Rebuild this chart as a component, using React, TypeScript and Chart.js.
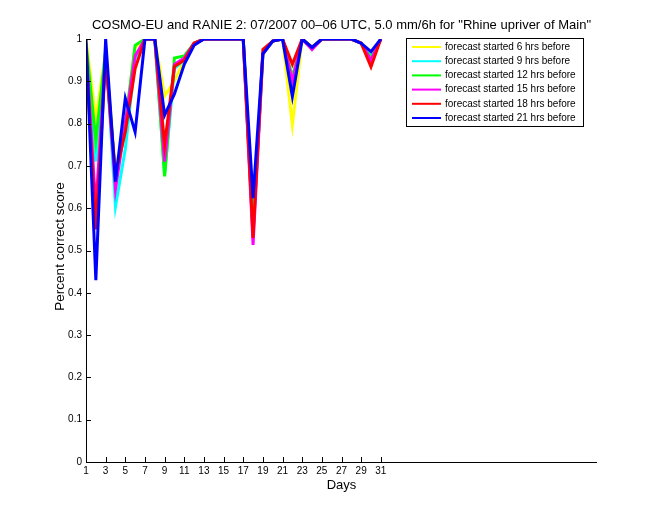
import React, { useEffect, useRef } from "react";
import { Chart, registerables } from "chart.js";

Chart.register(...registerables);

const titleText = 'COSMO-EU and RANIE 2: 07/2007 00\u201306 UTC, 5.0 mm/6h for "Rhine upriver of Main"';
const xTitle = "Days";
const yTitle = "Percent correct score";

const days = [1, 2, 3, 4, 5, 6, 7, 8, 9, 10, 11, 12, 13, 14, 15, 16, 17, 18, 19, 20, 21, 22, 23, 24, 25, 26, 27, 28, 29, 30, 31];
const xTicks = [1, 3, 5, 7, 9, 11, 13, 15, 17, 19, 21, 23, 25, 27, 29, 31];
const yTicks = [0, 0.1, 0.2, 0.3, 0.4, 0.5, 0.6, 0.7, 0.8, 0.9, 1];
const yTickLabels = ["0", "0.1", "0.2", "0.3", "0.4", "0.5", "0.6", "0.7", "0.8", "0.9", "1"];

const seriesLabels = [
  "forecast started 6 hrs before",
  "forecast started 9 hrs before",
  "forecast started 12 hrs before",
  "forecast started 15 hrs before",
  "forecast started 18 hrs before",
  "forecast started 21 hrs before",
];
const seriesColors = ["#ffff00", "#00ffff", "#00ff00", "#ff00ff", "#ff0000", "#0000ff"];

const s6 = [1.0, 0.81, 0.97, 0.69, 0.8, 0.98, 1, 1, 0.865, 0.9, 0.95, 0.99, 1, 1, 1, 1, 1, 0.55, 0.965, 0.995, 1, 0.797, 1, 0.98, 1, 1, 1, 1, 0.99, 0.96, 1];
const s9 = [0.98, 0.71, 0.98, 0.604, 0.74, 0.95, 1, 1, 0.68, 0.93, 0.95, 0.99, 1, 1, 1, 1, 1, 0.55, 0.965, 0.995, 1, 0.88, 1, 0.98, 1, 1, 1, 1, 0.99, 0.96, 1];
const s12 = [0.99, 0.76, 0.97, 0.67, 0.8, 0.985, 1, 1, 0.675, 0.955, 0.96, 0.99, 1, 1, 1, 1, 1, 0.54, 0.965, 0.995, 1, 0.91, 1, 0.98, 1, 1, 1, 1, 0.99, 0.955, 1];
const s15 = [0.98, 0.6, 0.97, 0.645, 0.8, 0.96, 1, 1, 0.71, 0.94, 0.955, 0.99, 1, 1, 1, 1, 1, 0.513, 0.965, 0.995, 1, 0.9, 1, 0.975, 1, 1, 1, 1, 0.99, 0.95, 1];
const s18 = [0.97, 0.55, 0.95, 0.68, 0.78, 0.93, 1, 1, 0.75, 0.935, 0.95, 0.99, 1, 1, 1, 1, 1, 0.53, 0.975, 0.995, 1, 0.94, 1, 0.98, 1, 1, 1, 1, 0.99, 0.934, 1];
const s21 = [1.0, 0.43, 1.0, 0.663, 0.86, 0.78, 1, 1, 0.82, 0.87, 0.94, 0.985, 1, 1, 1, 1, 1, 0.624, 0.965, 0.995, 1, 0.864, 1, 0.98, 1, 1, 1, 1, 0.99, 0.97, 1];
const seriesValues = [s6, s9, s12, s15, s18, s21];

const FONT = "'Liberation Sans', Arial, Helvetica, sans-serif";

const decorPlugin = {
  id: "decor",
  afterDraw(chart: any) {
    const ctx = chart.ctx as CanvasRenderingContext2D;
    const area = chart.chartArea;
    const xs = chart.scales.x;
    const ys = chart.scales.y;
    ctx.save();
    ctx.strokeStyle = "#000";
    ctx.lineWidth = 1;
    ctx.beginPath();
    ctx.moveTo(area.left + 0.5, area.top);
    ctx.lineTo(area.left + 0.5, area.bottom + 0.5);
    ctx.lineTo(area.right, area.bottom + 0.5);
    ctx.stroke();
    ctx.beginPath();
    xTicks.forEach((v) => {
      const px = Math.round(xs.getPixelForValue(v)) + 0.5;
      ctx.moveTo(px, area.bottom);
      ctx.lineTo(px, area.bottom - 5);
    });
    yTicks.forEach((v) => {
      const py = Math.round(ys.getPixelForValue(v)) + 0.5;
      ctx.moveTo(area.left, py);
      ctx.lineTo(area.left + 5, py);
    });
    ctx.stroke();
    ctx.fillStyle = "#000";
    ctx.font = `13px ${FONT}`;
    ctx.textAlign = "center";
    ctx.textBaseline = "middle";
    ctx.fillText(titleText, (area.left + area.right) / 2, 25);
    ctx.fillText(xTitle, (area.left + area.right) / 2, 485);
    ctx.save();
    ctx.font = `13.5px ${FONT}`;
    ctx.translate(60, (area.top + area.bottom) / 2 - 4);
    ctx.rotate(-Math.PI / 2);
    ctx.fillText(yTitle, 0, 0);
    ctx.restore();
    const bx = 406.5, by = 38.5, bw = 177, bh = 88;
    ctx.fillStyle = "#fff";
    ctx.fillRect(bx, by, bw, bh);
    ctx.strokeStyle = "#000";
    ctx.lineWidth = 1;
    ctx.strokeRect(bx, by, bw, bh);
    ctx.font = `10px ${FONT}`;
    ctx.textAlign = "left";
    chart.data.datasets.forEach((ds: any, i: number) => {
      const y = 47 + i * 14.2;
      ctx.strokeStyle = ds.borderColor;
      ctx.lineWidth = 2;
      ctx.beginPath();
      ctx.moveTo(412, y);
      ctx.lineTo(441, y);
      ctx.stroke();
      ctx.fillStyle = "#000";
      ctx.fillText(ds.label, 445, y);
    });
    ctx.restore();
  },
};

export default function App() {
  const ref = useRef<HTMLCanvasElement | null>(null);
  useEffect(() => {
    document.body.style.margin = "0";
    const canvas = ref.current;
    if (!canvas) return;
    const chart = new Chart(canvas, {
      type: "line",
      data: {
        datasets: seriesValues.map((vals, i) => ({
          label: seriesLabels[i],
          data: days.map((d, j) => ({ x: d, y: vals[j] })),
          borderColor: seriesColors[i],
          backgroundColor: seriesColors[i],
          borderWidth: 3,
          pointRadius: 0,
          tension: 0,
          fill: false,
          order: seriesValues.length - i,
        })),
      },
      options: {
        animation: false,
        responsive: false,
        maintainAspectRatio: false,
        layout: { padding: { left: 0, right: 63, top: 39, bottom: 0 } },
        plugins: {
          legend: { display: false },
          title: { display: false },
          tooltip: { enabled: false },
        },
        scales: {
          x: {
            type: "linear",
            min: 1,
            max: 53,
            afterBuildTicks: (scale: any) => {
              scale.ticks = xTicks.map((v) => ({ value: v }));
            },
            afterFit: (scale: any) => {
              scale.height = 58;
            },
            grid: { display: false, drawTicks: false },
            border: { display: false },
            ticks: {
              color: "#000",
              font: { family: FONT, size: 10 },
              padding: 3,
              maxRotation: 0,
              autoSkip: false,
              callback: (v: any) => String(v),
            },
          },
          y: {
            type: "linear",
            min: 0,
            max: 1,
            afterBuildTicks: (scale: any) => {
              scale.ticks = yTicks.map((v) => ({ value: v }));
            },
            afterFit: (scale: any) => {
              scale.width = 86;
            },
            grid: { display: false, drawTicks: false },
            border: { display: false },
            ticks: {
              color: "#000",
              font: { family: FONT, size: 10 },
              padding: 4,
              autoSkip: false,
              callback: (v: any) => {
                const idx = yTicks.findIndex((t) => Math.abs(t - Number(v)) < 1e-9);
                return idx >= 0 ? yTickLabels[idx] : "";
              },
            },
          },
        },
      },
      plugins: [decorPlugin],
    } as any);
    return () => chart.destroy();
  }, []);
  return (
    <div style={{ width: 660, height: 520, background: "#fff" }}>
      <canvas ref={ref} width={660} height={520} style={{ width: 660, height: 520, display: "block" }} />
    </div>
  );
}
